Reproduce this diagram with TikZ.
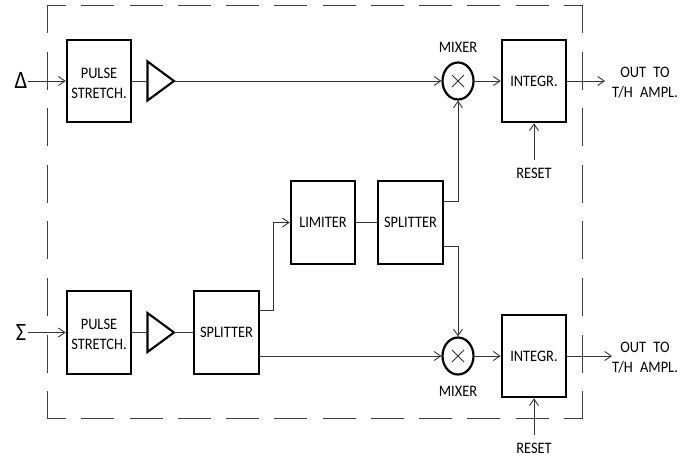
\documentclass[tikz,border=0pt]{standalone}
\usepackage{fontspec}
\setmainfont{Carlito}[FakeStretch=0.9]
\usetikzlibrary{arrows.meta,calc,shapes.geometric}
\newcommand{\blocktext}{\fontsize{16}{20}\selectfont}
\tikzset{
  x=1pt,y=-1pt,
  blockbox/.style={draw=black,line width=2.1pt,fill=white,minimum width=64.5pt,minimum height=82.5pt,inner sep=0pt,align=center,font=\blocktext},
  mixerc/.style={draw=black,line width=2.2pt,ellipse,fill=white,minimum width=31pt,minimum height=37pt,inner sep=0pt},
  amp/.style={draw=black,line width=2.1pt,fill=white,line join=miter},
  wire/.style={draw=black!80,line width=0.9pt},
  arrowed/.style={wire,-{Straight Barb[length=6.5pt,width=9pt,line width=0.9pt]}},
  label/.style={inner sep=0pt,align=center,font=\blocktext},
  glyph/.style={inner sep=0pt,font=\fontsize{25}{25}\selectfont},
  frameline/.style={draw=black!75,line width=1pt}
}
\begin{document}
\begin{tikzpicture}
\useasboundingbox (0,0) rectangle (686,456);
% frame
\coordinate (ftl) at (47,5);
\coordinate (ftr) at (582.5,5);
\coordinate (fbl) at (47,418.5);
\coordinate (fbr) at (582.5,418.5);
\draw[frameline,dash pattern=on 38pt off 18.6pt,dash phase=10pt] (ftl) -- (fbl);
\draw[frameline,dash pattern=on 38pt off 18.6pt,dash phase=10pt] (ftr) -- (fbr);
\draw[frameline,dash pattern=on 33pt off 15.25pt,dash phase=14pt] (ftl) -- (ftr);
\draw[frameline,dash pattern=on 33pt off 15.25pt,dash phase=14pt] (fbl) -- (fbr);
% blocks
\node[blockbox] (ps1) at (99,81) {\rule{0pt}{15pt}PULSE\\STRETCH.};
\node[blockbox] (ps2) at (99,332.5) {\rule{0pt}{15pt}PULSE\\STRETCH.};
\node[blockbox] (sp1) at (226.5,332.5) {SPLITTER};
\node[blockbox] (lim) at (323,222.5) {LIMITER};
\node[blockbox] (sp2) at (410.5,222.5) {SPLITTER};
\node[blockbox] (int1) at (534,81) {INTEGR.};
\node[blockbox] (int2) at (534,356) {INTEGR.};
% mixers
\node[mixerc] (mx1) at (458,81) {};
\node[mixerc] (mx2) at (458,356) {};
\draw[wire] (mx1.center) ++(-6,-6) -- ++(12,12) ++(-12,0) -- ++(12,-12);
\draw[wire] (mx2.center) ++(-6,-6) -- ++(12,12) ++(-12,0) -- ++(12,-12);
% amplifiers
\coordinate (a1in) at (147.5,81);
\coordinate (a1out) at (174,81);
\coordinate (a2in) at (147.5,332.5);
\coordinate (a2out) at (174,332.5);
\draw[amp] (147.5,61.5) -- (a1out) -- (147.5,100.5) -- cycle;
\draw[amp] (147.5,313) -- (a2out) -- (147.5,352) -- cycle;
% labels
\node[glyph] (dl) at (21,80) {Δ};
\node[glyph] (sl) at (21,332.5) {Σ};
\node[label] (mt) at (458,47.5) {MIXER};
\node[label] (mb) at (458,391.5) {MIXER};
\node[label] (r1) at (534,173.5) {RESET};
\node[label] (r2) at (534,448) {RESET};
\node[label] (o1) at (645,83) {OUT\hspace{4pt} TO\\T/H\hspace{4pt} AMPL.};
\node[label] (o2) at (645,357.5) {OUT\hspace{4pt} TO\\T/H\hspace{4pt} AMPL.};
\coordinate (di) at (27.5,81);
\coordinate (si) at (27.5,332.5);
\coordinate (o1e) at (605,81);
\coordinate (o2e) at (612,356);
\coordinate (r1s) at (534,160);
\coordinate (r2s) at (534,435);
% connectors
\draw[arrowed] (di) -- (ps1.west);
\draw[arrowed] (si) -- (ps2.west);
\draw[wire] (ps1.east) -- (a1in);
\draw[wire] (ps2.east) -- (a2in);
\draw[arrowed] (a1out) -- (mx1.west);
\draw[wire] (a2out) -- (sp1.west);
\draw[arrowed] (mx1.east) -- (int1.west);
\draw[arrowed] (mx2.east) -- (int2.west);
\draw[arrowed] (int1.east) -- (o1e);
\draw[arrowed] (int2.east) -- (o2e);
\draw[arrowed] (r1s) -- (int1.south);
\draw[arrowed] (r2s) -- (int2.south);
\draw[arrowed] (sp1.east |- 0,310) -| (273,222.5) -- (lim.west);
\draw[arrowed] (sp1.east |- mx2) -- (mx2.west);
\draw[wire] (lim.east) -- (sp2.west);
\draw[arrowed] (sp2.east |- 0,201) -| (mx1.south);
\draw[arrowed] (sp2.east |- 0,246) -| (mx2.north);
\end{tikzpicture}
\end{document}
